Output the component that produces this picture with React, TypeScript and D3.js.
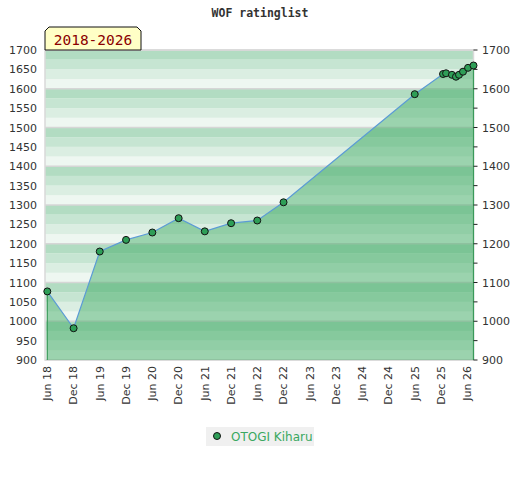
import * as d3 from "d3";

// rating history
const dates = [
  "2018-06-01", "2018-12-01", "2019-06-01", "2019-12-01", "2020-06-01",
  "2020-12-01", "2021-06-01", "2021-12-01", "2022-06-01", "2022-12-01",
  "2025-06-01", "2025-12-15", "2026-01-05", "2026-02-15", "2026-03-15",
  "2026-04-05", "2026-05-03", "2026-06-07", "2026-07-15",
];
const ratings = [
  1077, 982, 1180, 1210, 1229, 1266, 1232, 1253, 1260, 1307,
  1586, 1638, 1640, 1636, 1631, 1636, 1644, 1654, 1660,
];
const xTickDates = [
  "2018-06-01", "2018-12-01", "2019-06-01", "2019-12-01", "2020-06-01",
  "2020-12-01", "2021-06-01", "2021-12-01", "2022-06-01", "2022-12-01",
  "2023-06-01", "2023-12-01", "2024-06-01", "2024-12-01", "2025-06-01",
  "2025-12-01", "2026-06-01",
];
const leftTicks = d3.range(900, 1701, 50);
const rightTicks = d3.range(900, 1701, 100);
const bandColors = ["#b2dcc2", "#c6e5d2", "#dbeee2", "#eef7f1"];
const playerName = "OTOGI Kiharu";
const title = "WOF ratinglist";
const period = "2018-2026";

const parse = d3.timeParse("%Y-%m-%d");
const fmt = d3.timeFormat("%b %y");

export default function App() {
  const left = 45, right = 473.5, top = 50, bottom = 360;
  const points = dates.map((d, i) => ({ date: parse(d)!, value: ratings[i] }));

  const x = d3.scaleTime()
    .domain([parse("2018-05-16")!, points[points.length - 1].date])
    .range([left, right]);
  const y = d3.scaleLinear().domain([900, 1700]).range([bottom, top]);

  const bands = d3.range(900, 1700, 25);
  const line = d3.line<any>().x((d) => x(d.date)).y((d) => y(d.value));
  const area = d3.area<any>().x((d) => x(d.date)).y0(y(900)).y1((d) => y(d.value));
  const first = points[0], last = points[points.length - 1];

  return (
    <svg width={520} height={480} style={{ position: "absolute", left: 0, top: 0, background: "#fff" }}
      fontFamily="DejaVu Sans, Verdana, sans-serif">
      <text x={260} y={17} textAnchor="middle" fontFamily="DejaVu Sans Mono, monospace"
        fontWeight="bold" fontSize={11.5} fill="#333">{title}</text>

      {bands.map((b) => (
        <rect key={b} x={left} y={y(b + 25)} width={right - left} height={y(b) - y(b + 25)}
          fill={bandColors[3 - ((b - 900) / 25) % 4]} />
      ))}
      {rightTicks.map((t) => (
        <line key={t} x1={left} x2={right} y1={y(t)} y2={y(t)} stroke="#d6d6d6" strokeWidth={1.5} />
      ))}
      <rect x={left} y={top} width={right - left} height={bottom - top} fill="none" stroke="#d9d9d9" strokeWidth={1.5} />

      <path d={area(points)!} fill="#3daa62" fillOpacity={0.47} />
      <line x1={x(first.date)} x2={x(first.date)} y1={y(first.value)} y2={y(900)} stroke="#3a9a5a" strokeWidth={1.2} />
      <line x1={x(last.date)} x2={x(last.date)} y1={y(last.value)} y2={y(900)} stroke="#3a9a5a" strokeWidth={1.2} />
      <path d={line(points)!} fill="none" stroke="#5b9bd5" strokeWidth={1.2} />
      {points.map((p, i) => (
        <circle key={i} cx={x(p.date)} cy={y(p.value)} r={3.5} fill="#2e9e57" stroke="#111" strokeWidth={1} />
      ))}

      {leftTicks.map((t) => (
        <text key={t} x={37} y={y(t) + 4} textAnchor="end" fontSize={11} fill="#333">{t}</text>
      ))}
      {leftTicks.map((t) => (
        <line key={t} x1={right} x2={right + 4} y1={y(t)} y2={y(t)} stroke="#222" strokeWidth={1} />
      ))}
      {rightTicks.map((t) => (
        <text key={t} x={482} y={y(t) + 4} fontSize={11} fill="#333">{t}</text>
      ))}
      {xTickDates.map((d) => {
        const dt = parse(d)!;
        return (
          <text key={d} transform={`translate(${x(dt)},366) rotate(-90)`} textAnchor="end" dy="0.35em"
            fontSize={11} fill="#333">{fmt(dt)}</text>
        );
      })}

      <path d="M45,50 L45,31 L49,27 L137,27 L141,31 L141,50 Z" fill="#ffffc6" stroke="#111" strokeWidth={1} />
      <text x={93} y={45} textAnchor="middle" fontFamily="DejaVu Sans Mono, monospace" fontSize={14.5} fill="#8b0000">{period}</text>

      <rect x={206} y={427} width={108} height={19} fill="#f0f0f0" />
      <circle cx={217} cy={436} r={3.5} fill="#2e9e57" stroke="#111" strokeWidth={1} />
      <text x={231} y={440.5} fontSize={12} fill="#3aa860">{playerName}</text>
    </svg>
  );
}
